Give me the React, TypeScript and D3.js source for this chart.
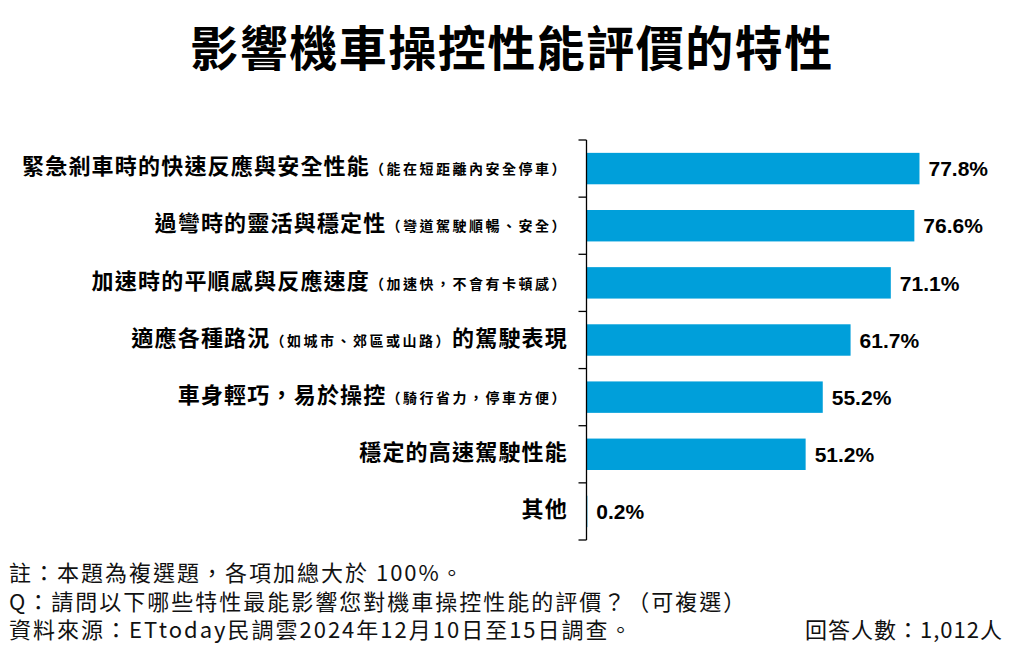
import React from "react";
import * as d3 from "d3";

const title = "影響機車操控性能評價的特性";

// each category label: segments [text, isSmall]
const categoryLabels: [string, boolean][][] = [
  [["緊急剎車時的快速反應與安全性能", false], ["（能在短距離內安全停車）", true]],
  [["過彎時的靈活與穩定性", false], ["（彎道駕駛順暢、安全）", true]],
  [["加速時的平順感與反應速度", false], ["（加速快，不會有卡頓感）", true]],
  [["適應各種路況", false], ["（如城市、郊區或山路）", true], ["的駕駛表現", false]],
  [["車身輕巧，易於操控", false], ["（騎行省力，停車方便）", true]],
  [["穩定的高速駕駛性能", false]],
  [["其他", false]],
];
const categories = ["c1", "c2", "c3", "c4", "c5", "c6", "c7"];
const values = [77.8, 76.6, 71.1, 61.7, 55.2, 51.2, 0.2];

const footerLines = [
  "註：本題為複選題，各項加總大於 100%。",
  "Q：請問以下哪些特性最能影響您對機車操控性能的評價？（可複選）",
  "資料來源：ETtoday民調雲2024年12月10日至15日調查。",
];
const respondents = "回答人數：1,012人";

const W = 1021;
const H = 659;
const CJK = "'Noto Sans CJK TC', 'Noto Sans', sans-serif";
const LAT = "'Liberation Sans', Arial, sans-serif";
const BAR = "#009FDA";

export default function App() {
  const axisX = 586.5;
  const y = d3
    .scaleBand<string>()
    .domain(categories)
    .range([140, 540])
    .paddingInner(0.45)
    .paddingOuter(0.225);
  const x = d3.scaleLinear().domain([0, 100]).range([axisX, axisX + 428]);
  const step = y.step();
  const r0 = y.range()[0];
  const tickYs = d3.range(categories.length + 1).map((i) => r0 + i * step);

  return (
    <svg
      width={W}
      height={H}
      viewBox={`0 0 ${W} ${H}`}
      style={{ position: "absolute", left: 0, top: 0, background: "#fff" }}
    >
      <rect x={0} y={0} width={W} height={H} fill="#fff" />
      <text
        x={512}
        y={66}
        textAnchor="middle"
        fontFamily={CJK}
        fontWeight={700}
        fontSize={48}
        letterSpacing={1.5}
        fill="#000"
      >
        {title}
      </text>

      {categories.map((c, i) => (
        <rect
          key={c}
          x={x(0)}
          y={y(c)!}
          width={x(values[i]) - x(0)}
          height={y.bandwidth()}
          fill={BAR}
        />
      ))}

      <line x1={axisX} x2={axisX} y1={r0} y2={r0 + step * categories.length} stroke="#000" strokeWidth={1.3} />
      {tickYs.map((ty, i) => (
        <line key={i} x1={axisX - 8} x2={axisX} y1={ty} y2={ty} stroke="#000" strokeWidth={1.3} />
      ))}

      {categories.map((c, i) => (
        <text
          key={c}
          x={568}
          y={y(c)! + y.bandwidth() / 2}
          dy="0.36em"
          textAnchor="end"
          fontFamily={CJK}
          fontWeight={700}
          fill="#000"
        >
          {categoryLabels[i].map(([t, small], j) => (
            <tspan
              key={j}
              fontSize={small ? 14 : 22}
              letterSpacing={small ? 2.5 : 1.2}
            >
              {t}
            </tspan>
          ))}
        </text>
      ))}

      {categories.map((c, i) => (
        <text
          key={c}
          x={x(values[i]) + 9}
          y={y(c)! + y.bandwidth() / 2}
          dy="0.37em"
          fontFamily={LAT}
          fontWeight={700}
          fontSize={21}
          fill="#000"
        >
          {values[i].toFixed(1)}%
        </text>
      ))}

      {footerLines.map((t, i) => (
        <text
          key={i}
          x={9}
          y={581 + i * 28.5}
          fontFamily={CJK}
          fontSize={22}
          letterSpacing={2}
          fill="#111"
        >
          {t}
        </text>
      ))}
      <text x={1003} y={638} textAnchor="end" fontFamily={CJK} fontSize={22} letterSpacing={1} fill="#111">
        {respondents}
      </text>
    </svg>
  );
}
